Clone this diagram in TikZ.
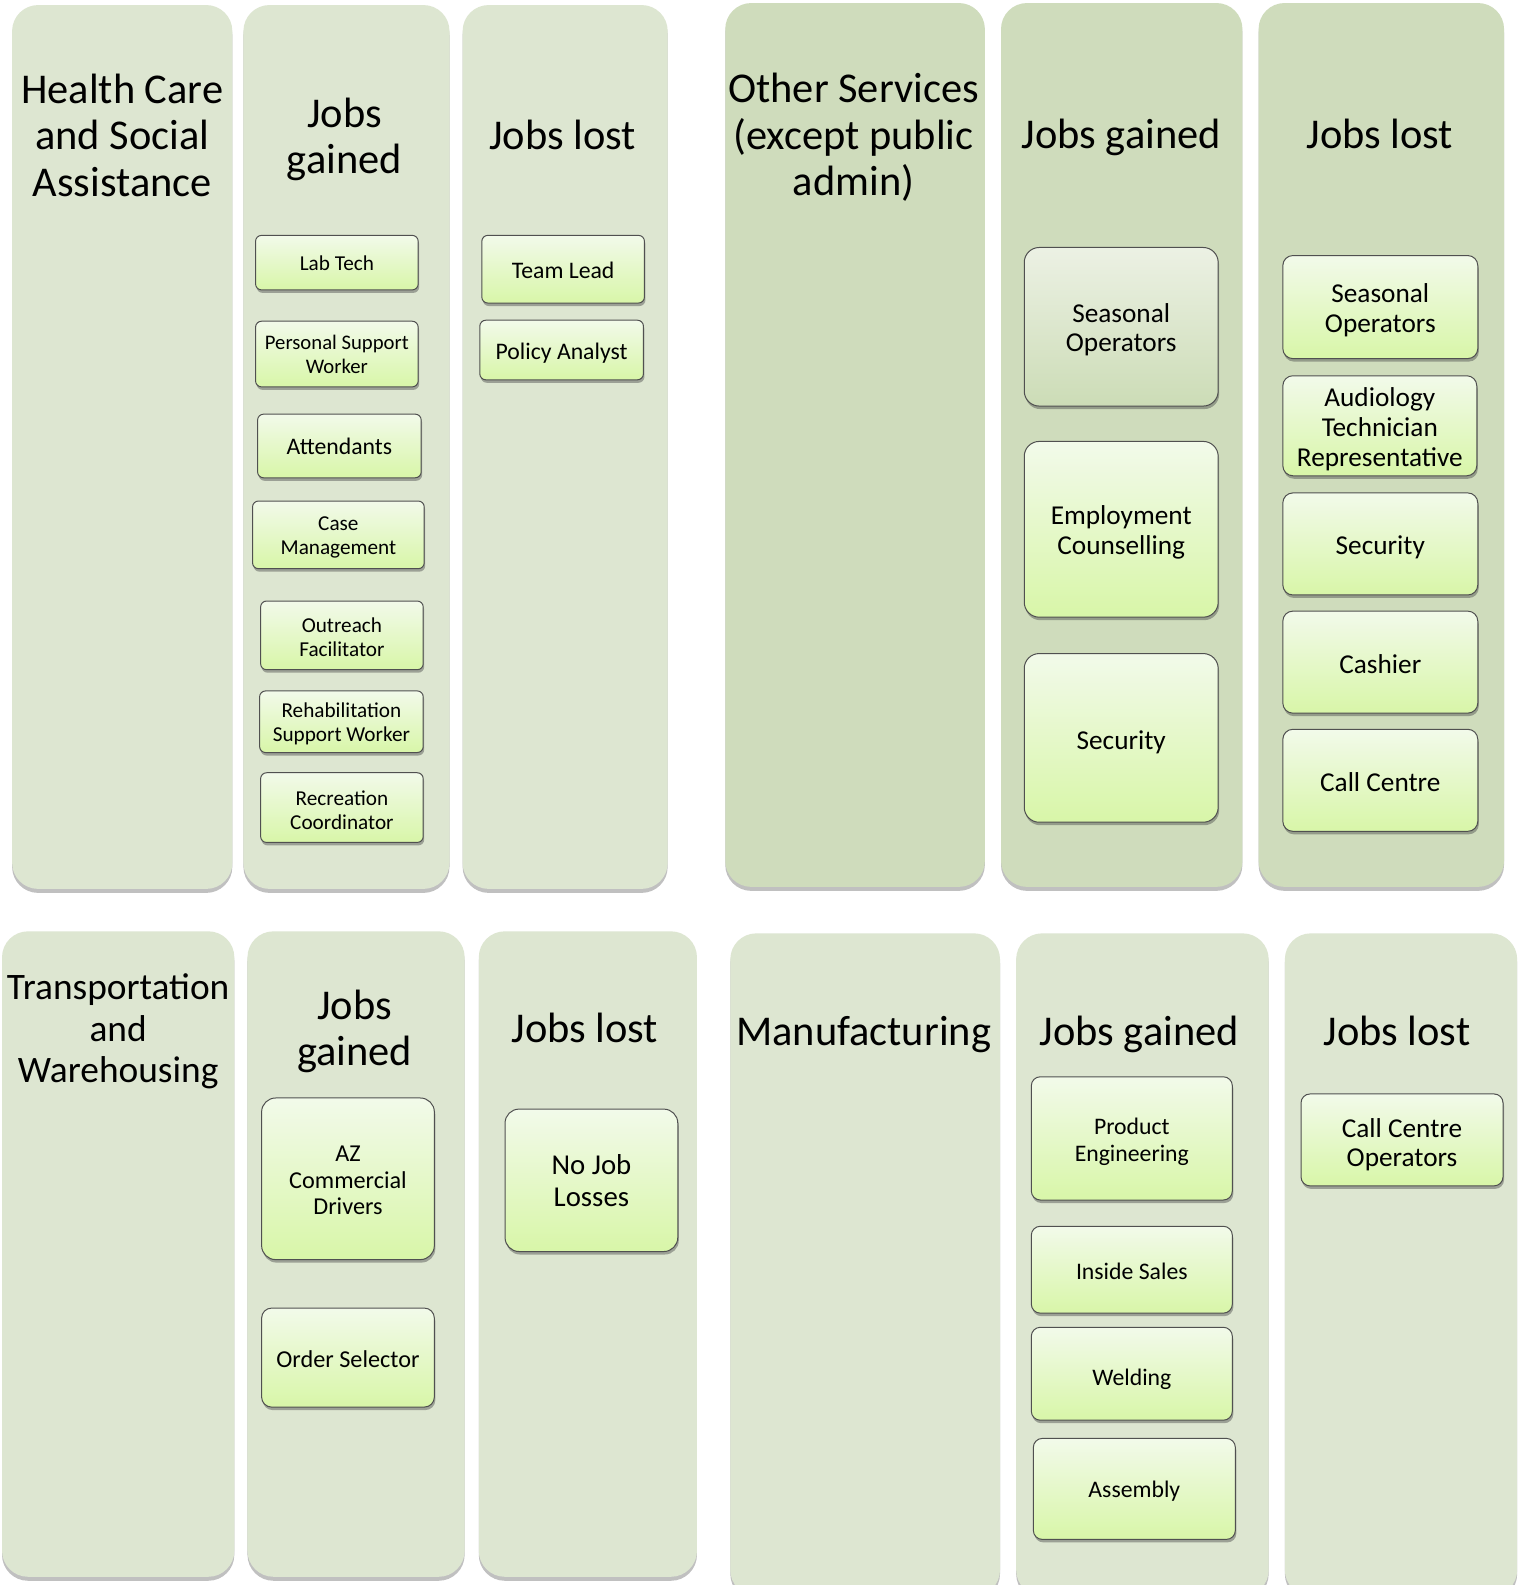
\documentclass[tikz,border=0pt]{standalone}
\usepackage{fontspec}
\setmainfont{Carlito}
\usetikzlibrary{shadows}
\definecolor{collight}{RGB}{221,230,209}
\definecolor{coldk}{RGB}{207,220,188}
\definecolor{boxtop}{RGB}{242,250,234}
\definecolor{boxbot}{RGB}{216,246,168}
\definecolor{graytop}{RGB}{236,241,228}
\definecolor{graybot}{RGB}{204,220,182}
\definecolor{boxline}{RGB}{80,80,80}
\newcommand{\fz}[2]{\fontsize{#1}{#2}\selectfont}
\tikzset{
  colbox/.style={rounded corners=26pt, fill=collight, draw=none, inner sep=0pt,
    drop shadow={shadow xshift=0pt, shadow yshift=-4pt, opacity=.35, fill=black!70}},
  darkcolbox/.style={colbox, fill=coldk},
  titletext/.style={align=center, inner sep=0pt, font=\fz{42}{46}},
  jobbox/.style={rounded corners=6pt, draw=boxline, line width=1pt,
    top color=boxtop, bottom color=boxbot, inner sep=0pt,
    drop shadow={shadow xshift=1pt, shadow yshift=-3pt, opacity=.45, fill=black!70}},
  graybox/.style={jobbox, top color=graytop, bottom color=graybot},
  jobtext/.style={align=center, inner sep=0pt},
}
% #1 box options, #2 name, #3 x, #4 y, #5 font, #6 text offset, #7 text
\newcommand{\jobnode}[7]{%
  \node[#1] (#2) at (#3,#4) {};
  \node[jobtext, font=#5] (#2t) at (#3,#4+#6) {#7};}
\begin{document}
\begin{tikzpicture}[x=1pt,y=-1pt]
\fill[white] (0,0) rectangle (1519,1585);
\useasboundingbox (0,0) rectangle (1519,1585);
\begin{scope}[scale=1.0101, transform shape]
% ---- top row columns
\node[colbox, minimum width=218pt, minimum height=875pt] (c1) at (121,442.5) {};
\node[colbox, minimum width=204pt, minimum height=875pt] (c2) at (343,442.5) {};
\node[colbox, minimum width=203pt, minimum height=875pt] (c3) at (559.5,442.5) {};
\node[darkcolbox, minimum width=257pt, minimum height=875pt] (c4) at (846.5,440.5) {};
\node[darkcolbox, minimum width=239pt, minimum height=875pt] (c5) at (1110.5,440.5) {};
\node[darkcolbox, minimum width=243pt, minimum height=875pt] (c6) at (1367.5,440.5) {};
% ---- bottom row columns
\node[colbox, minimum width=230pt, minimum height=639pt] (d1) at (117,1241.5) {};
\node[colbox, minimum width=215pt, minimum height=639pt] (d2) at (352.5,1241.5) {};
\node[colbox, minimum width=216pt, minimum height=639pt] (d3) at (582,1241.5) {};
\node[colbox, minimum width=267pt, minimum height=656pt] (d4) at (856.5,1252) {};
\node[colbox, minimum width=250pt, minimum height=656pt] (d5) at (1131,1252) {};
\node[colbox, minimum width=230pt, minimum height=656pt] (d6) at (1387,1252) {};
% ---- titles
\node[titletext] (t1) at (121,134) {Health Care\\and Social\\Assistance};
\node[titletext] (t2) at (341,138) {Jobs\\gained};
\node[titletext] (t3) at (557,134) {Jobs lost};
\node[titletext] (t4) at (845,136) {Other Services\\(except public\\admin)};
\node[titletext] (t5) at (1110,136) {Jobs gained};
\node[titletext] (t6) at (1366,133) {Jobs lost};
\node[titletext, font=\fz{37}{41}] (u1) at (117,1021) {Transportation\\and\\Warehousing};
\node[titletext] (u2) at (351,1021) {Jobs\\gained};
\node[titletext] (u3) at (579,1018) {Jobs lost};
\node[titletext] (u4) at (855,1024) {Manufacturing};
\node[titletext] (u5) at (1128,1024) {Jobs gained};
\node[titletext] (u6) at (1383,1021) {Jobs lost};
% ---- Health care boxes
\jobnode{jobbox, minimum width=161pt, minimum height=54pt}{b1}{333.5}{260}{\fz{21}{24}}{1}{Lab Tech}
\jobnode{jobbox, minimum width=161pt, minimum height=65pt}{b2}{333.5}{350.5}{\fz{20.5}{24}}{0}{Personal Support\\Worker}
\jobnode{jobbox, minimum width=162pt, minimum height=63pt}{b3}{336}{441.5}{\fz{23.5}{25}}{0}{Attendants}
\jobnode{jobbox, minimum width=170pt, minimum height=67pt}{b4}{335}{529.5}{\fz{21}{24}}{2.5}{Case\\Management}
\jobnode{jobbox, minimum width=161pt, minimum height=68pt}{b5}{338.5}{629}{\fz{21}{24}}{2}{Outreach\\Facilitator}
\jobnode{jobbox, minimum width=162pt, minimum height=61pt}{b6}{338}{714.5}{\fz{21}{24}}{2}{Rehabilitation\\Support Worker}
\jobnode{jobbox, minimum width=161pt, minimum height=69pt}{b7}{338.5}{799.5}{\fz{21}{24}}{2.5}{Recreation\\Coordinator}
\jobnode{jobbox, minimum width=161pt, minimum height=67pt}{b8}{557.5}{266.5}{\fz{23.5}{25}}{1}{Team Lead}
\jobnode{jobbox, minimum width=162pt, minimum height=59pt}{b9}{556}{346.5}{\fz{23.5}{25}}{3}{Policy Analyst}
% ---- Other services boxes
\jobnode{graybox, rounded corners=15pt, minimum width=192pt, minimum height=157pt}{b10}{1110}{323.5}{\fz{27}{29}}{3}{Seasonal\\Operators}
\jobnode{jobbox, rounded corners=15pt, minimum width=192pt, minimum height=174pt}{b11}{1110}{524}{\fz{27}{29}}{3}{Employment\\Counselling}
\jobnode{jobbox, rounded corners=15pt, minimum width=192pt, minimum height=167pt}{b12}{1110}{730.5}{\fz{27}{29}}{4}{Security}
\jobnode{jobbox, rounded corners=10pt, minimum width=193pt, minimum height=102pt}{b13}{1366.5}{304}{\fz{27}{29.5}}{3}{Seasonal\\Operators}
\jobnode{jobbox, rounded corners=10pt, minimum width=192pt, minimum height=99pt}{b14}{1366}{421.5}{\fz{27}{29.5}}{3.5}{Audiology\\Technician\\Representative}
\jobnode{jobbox, rounded corners=10pt, minimum width=193pt, minimum height=101pt}{b15}{1366.5}{538.5}{\fz{27}{29.5}}{3}{Security}
\jobnode{jobbox, rounded corners=10pt, minimum width=193pt, minimum height=101pt}{b16}{1366.5}{655.5}{\fz{27}{29.5}}{2}{Cashier}
\jobnode{jobbox, rounded corners=10pt, minimum width=193pt, minimum height=101pt}{b17}{1366.5}{772.5}{\fz{27}{29.5}}{2}{Call Centre}
% ---- Transportation boxes
\jobnode{jobbox, rounded corners=14pt, minimum width=171pt, minimum height=160pt}{b18}{344.5}{1167}{\fz{24}{26}}{1.5}{AZ\\Commercial\\Drivers}
\jobnode{jobbox, rounded corners=10pt, minimum width=171pt, minimum height=98pt}{b19}{344.5}{1344}{\fz{24}{26}}{2}{Order Selector}
\jobnode{jobbox, rounded corners=14pt, minimum width=171pt, minimum height=141pt}{b20}{585.5}{1168.5}{\fz{28.5}{32}}{0}{No Job\\Losses}
% ---- Manufacturing boxes
\jobnode{jobbox, rounded corners=9pt, minimum width=199pt, minimum height=122pt}{b21}{1120.5}{1127}{\fz{23.5}{27}}{3.5}{Product\\Engineering}
\jobnode{jobbox, rounded corners=9pt, minimum width=199pt, minimum height=86pt}{b22}{1120.5}{1257}{\fz{23.5}{27}}{2}{Inside Sales}
\jobnode{jobbox, rounded corners=9pt, minimum width=199pt, minimum height=92pt}{b23}{1120.5}{1360}{\fz{23.5}{27}}{5}{Welding}
\jobnode{jobbox, rounded corners=9pt, minimum width=200pt, minimum height=100pt}{b24}{1123}{1474}{\fz{23.5}{27}}{2}{Assembly}
\jobnode{jobbox, rounded corners=9pt, minimum width=200pt, minimum height=91pt}{b25}{1388}{1128.5}{\fz{27}{29}}{5}{Call Centre\\Operators}
\end{scope}
\end{tikzpicture}
\end{document}
